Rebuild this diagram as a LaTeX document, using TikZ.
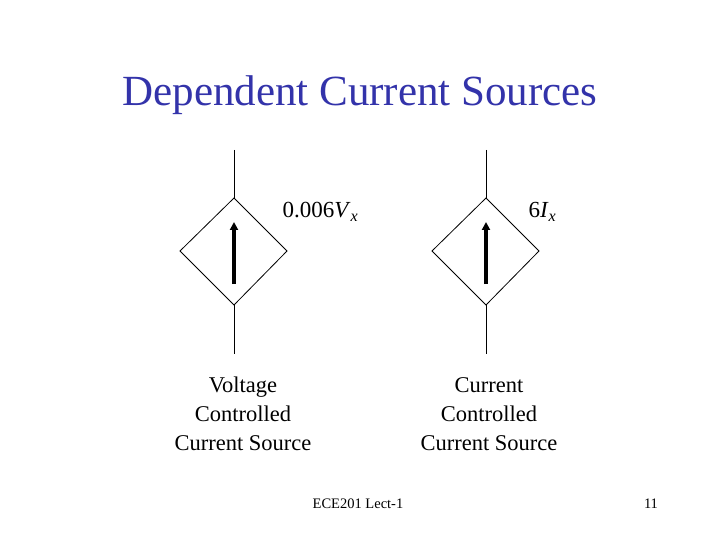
\documentclass[tikz,border=0pt]{standalone}
\usepackage{fontspec}
\setmainfont{Liberation Serif}
\usetikzlibrary{arrows.meta}
\begin{document}
\begin{tikzpicture}[x=1pt,y=-1pt,
  wire/.style={line width=0.8pt},
  src/.style={wire},
  arr/.style={line width=3.5pt,-{Triangle[length=8pt,width=8pt]}},
  lbl/.style={font=\fontsize{22.5}{29}\selectfont,align=center},
  val/.style={font=\fontsize{23}{26}\selectfont,anchor=west}]
\useasboundingbox[fill=white] (0,0) rectangle (720,540);
\node[font=\fontsize{43}{46}\selectfont, color={rgb,255:red,51;green,51;blue,170}] (title) at (360,95) {Dependent Current Sources};
\foreach \n/\cx in {L/234,R/486}{
  \coordinate (\n top) at (\cx,150);
  \coordinate (\n t) at (\cx,198);
  \coordinate (\n r) at (\cx+53,251);
  \coordinate (\n b) at (\cx,305);
  \coordinate (\n l) at (\cx-54,251);
  \coordinate (\n bot) at (\cx,354);
  \coordinate (\n as) at (\cx,284);
  \coordinate (\n ae) at (\cx,222);
  \draw[wire] (\n top) -- (\n t);
  \draw[wire] (\n b) -- (\n bot);
  \draw[src] (\n t) -- (\n r) -- (\n b) -- (\n l) -- cycle;
  \draw[arr] (\n as) -- (\n ae);
}
\node[val] (v1) at (279,212) {0.006\textit{V}\textsubscript{\textit{x}}};
\node[val] (v2) at (525,212) {6\textit{I}\textsubscript{\textit{x}}};
\node[lbl] (t1) at (243,414) {Voltage\\Controlled\\Current Source};
\node[lbl] (t2) at (489,414) {Current\\Controlled\\Current Source};
\node[font=\fontsize{14.5}{16}\selectfont] (f1) at (358,504) {ECE201 Lect-1};
\node[font=\fontsize{14.5}{16}\selectfont] (f2) at (651,504) {11};
\end{tikzpicture}
\end{document}
